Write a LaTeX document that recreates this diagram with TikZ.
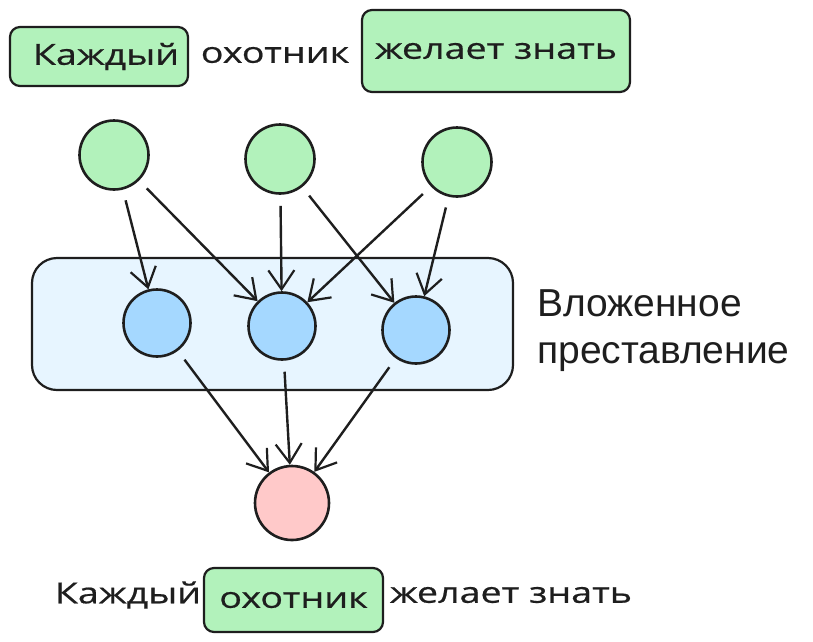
\documentclass[tikz,border=0pt]{standalone}
\usepackage{fontspec}
\setmainfont{Liberation Sans}
\newfontfamily\handfont[FakeStretch=1.3,FakeBold=0.6]{Open Sans}
\usetikzlibrary{arrows.meta}
\definecolor{inkc}{HTML}{1E1E1E}
\definecolor{greenc}{HTML}{B2F2BB}
\definecolor{bluec}{HTML}{A5D8FF}
\definecolor{lightbluec}{HTML}{E7F5FF}
\definecolor{pinkc}{HTML}{FFC9C9}
\tikzset{
  wordbox/.style={draw=inkc, line width=2.2pt, fill=greenc, rounded corners=10pt, inner sep=0pt},
  word/.style={font=\handfont\fontsize{29}{32}\selectfont, text=inkc, inner sep=0pt},
  gcirc/.style={circle, draw=inkc, line width=2.6pt, fill=greenc, minimum size=69pt, inner sep=0pt},
  bcirc/.style={circle, draw=inkc, line width=2.6pt, fill=bluec, minimum size=67pt, inner sep=0pt},
  pcirc/.style={circle, draw=inkc, line width=2.6pt, fill=pinkc, minimum size=74pt, inner sep=0pt},
  arr/.style={draw=inkc, line width=2.4pt, -{Straight Barb[length=19pt, width=26pt, line width=2.2pt]}, shorten <=11pt},
}
\begin{document}
\begin{tikzpicture}[x=1pt, y=-1pt]
\useasboundingbox (0,0) rectangle (813,641);
% top sentence
\node[wordbox, word, minimum width=178pt, minimum height=59pt] (t1) at (99,56.5) {\hspace*{14pt}Каждый};
\node[word] (t2) at (275,55) {охотник};
\node[wordbox, word, minimum width=268pt, minimum height=82pt] (t3) at (496,51) {желает знать};
% embedding container
\node[draw=inkc, line width=2.2pt, fill=lightbluec, rounded corners=25pt, minimum width=481pt, minimum height=132pt, inner sep=0pt] (emb) at (272.5,324) {};
\node[anchor=west, align=left, font=\fontsize{39}{47}\selectfont, text=inkc, inner sep=0pt] (lbl) at (537,331) {Вложенное\\преставление};
% circles
\node[gcirc] (g1) at (114,155) {};
\node[gcirc] (g2) at (280,159) {};
\node[gcirc] (g3) at (457,162) {};
\node[bcirc] (b1) at (157,323) {};
\node[bcirc] (b2) at (282,326) {};
\node[bcirc] (b3) at (416,330) {};
\node[pcirc] (p) at (292,503) {};
% arrows
\draw[arr] (g1) -- (b1);
\draw[arr] (g1) -- (b2);
\draw[arr] (g2) -- (b2);
\draw[arr] (g2) -- (b3);
\draw[arr] (g3) -- (b2);
\draw[arr] (g3) -- (b3);
\draw[arr] (b1) -- (p);
\draw[arr] (b2) -- (p);
\draw[arr] (b3) -- (p);
% bottom sentence
\node[word] (s1) at (128,595) {Каждый};
\node[wordbox, word, minimum width=179pt, minimum height=64pt] (s2) at (293.5,600) {охотник};
\node[word] (s3) at (511,595) {желает знать};
\end{tikzpicture}
\end{document}
